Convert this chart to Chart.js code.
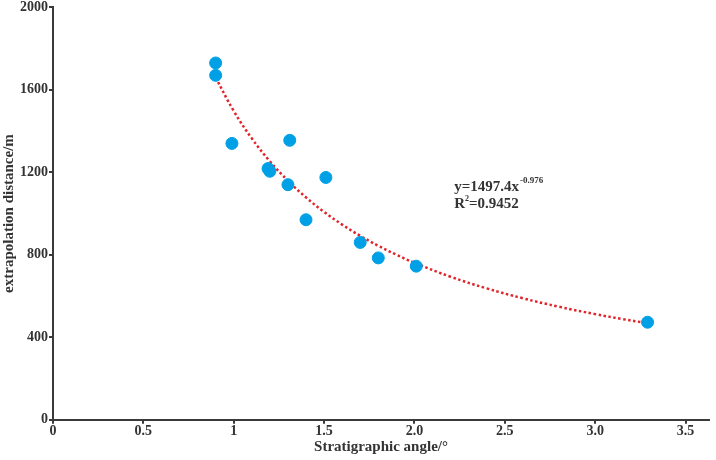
<!DOCTYPE html>
<html>
<head>
<meta charset="utf-8">
<script src="https://cdn.jsdelivr.net/npm/chart.js@4"></script>
<style>
  html, body { margin: 0; padding: 0; background: #fff; }
  #wrap { width: 716px; height: 460px; }
</style>
</head>
<body>
<div id="wrap"><canvas id="myChart"></canvas></div>
<script>
// measured points
const angles = [0.90, 0.90, 0.99, 1.19, 1.20, 1.31, 1.30, 1.40, 1.51, 1.70, 1.80, 2.01, 3.29];
const distances = [1730, 1670, 1340, 1218, 1205, 1355, 1140, 970, 1175, 860, 785, 745, 473];

// power fit y = a * x^b
const fitA = 1497.4;
const fitB = -0.976;
const fitX = [0.90, 1.0, 1.1, 1.2, 1.3, 1.4, 1.5, 1.6, 1.7, 1.8, 1.9, 2.0, 2.2, 2.4, 2.6, 2.8, 3.0, 3.15, 3.29];

const xTicks = [0, 0.5, 1, 1.5, 2, 2.5, 3, 3.5];
const xTickLabels = ['0', '0.5', '1', '1.5', '2.0', '2.5', '3.0', '3.5'];
const yTicks = [0, 400, 800, 1200, 1600, 2000];

const axisColor = '#3a3a3a';
const serif = '"Liberation Serif", "DejaVu Serif", serif';

const points = angles.map((a, i) => ({ x: a, y: distances[i] }));
const fitLine = fitX.map(x => ({ x: x, y: fitA * Math.pow(x, fitB) }));

// equation label
const eqPlugin = {
  id: 'eqLabel',
  afterDatasetsDraw(chart) {
    const c = chart.ctx;
    const xs = chart.scales.x, ys = chart.scales.y;
    const px = xs.getPixelForValue(2.22);
    const py = ys.getPixelForValue(1110);
    c.save();
    c.fillStyle = '#333';
    c.textBaseline = 'alphabetic';
    c.font = 'bold 15px ' + serif;
    c.fillText('y=1497.4x', px, py);
    const w = c.measureText('y=1497.4x').width;
    c.font = 'bold 9px ' + serif;
    c.fillText('-0.976', px + w + 1, py - 8);
    c.font = 'bold 15px ' + serif;
    c.fillText('R', px, py + 17);
    const wr = c.measureText('R').width;
    c.font = 'bold 8px ' + serif;
    c.fillText('2', px + wr, py + 10);
    c.font = 'bold 15px ' + serif;
    c.fillText('=0.9452', px + wr + 4, py + 17);
    c.restore();
  }
};

const ctx = document.getElementById('myChart').getContext('2d');
const myChart = new Chart(ctx, {
  type: 'scatter',
  data: {
    datasets: [
      {
        label: 'trend',
        type: 'line',
        data: fitLine,
        borderColor: '#e0242b',
        borderWidth: 2.5,
        borderDash: [2.5, 2.5],
        pointRadius: 0,
        tension: 0.4,
        fill: false,
        order: 2
      },
      {
        label: 'data',
        data: points,
        backgroundColor: '#00a0e6',
        borderColor: '#00a0e6',
        pointRadius: 6,
        order: 1
      }
    ]
  },
  options: {
    responsive: true,
    maintainAspectRatio: false,
    animation: false,
    layout: { padding: { top: 0, right: 4, left: 0, bottom: 5 } },
    plugins: { legend: { display: false }, tooltip: { enabled: false } },
    scales: {
      x: {
        type: 'linear',
        min: 0,
        max: 3.63,
        afterBuildTicks: axis => { axis.ticks = xTicks.map(v => ({ value: v })); },
        grid: { drawOnChartArea: false, color: axisColor, tickLength: 4, lineWidth: 2 },
        border: { color: axisColor, width: 2 },
        ticks: {
          color: '#333',
          font: { family: serif, weight: 'bold', size: 14, lineHeight: 1.05 },
          padding: 0,
          maxRotation: 0,
          callback: (v) => xTickLabels[xTicks.indexOf(v)] ?? ''
        },
        title: {
          display: true,
          text: 'Stratigraphic angle/°',
          color: '#333',
          font: { family: serif, weight: 'bold', size: 15, lineHeight: 1.1 },
          padding: { top: 0, bottom: 0 }
        }
      },
      y: {
        min: 0,
        max: 2000,
        afterBuildTicks: axis => { axis.ticks = yTicks.map(v => ({ value: v })); },
        grid: { drawOnChartArea: false, color: axisColor, tickLength: 4, lineWidth: 2 },
        border: { color: axisColor, width: 2 },
        ticks: {
          color: '#333',
          font: { family: serif, weight: 'bold', size: 14, lineHeight: 0.9 },
          padding: 1,
          callback: (v) => String(v)
        },
        title: {
          display: true,
          text: 'extrapolation distance/m',
          color: '#333',
          font: { family: serif, weight: 'bold', size: 15 },
          padding: { top: 0, bottom: 1 }
        }
      }
    }
  },
  plugins: [eqPlugin]
});
</script>
</body>
</html>
